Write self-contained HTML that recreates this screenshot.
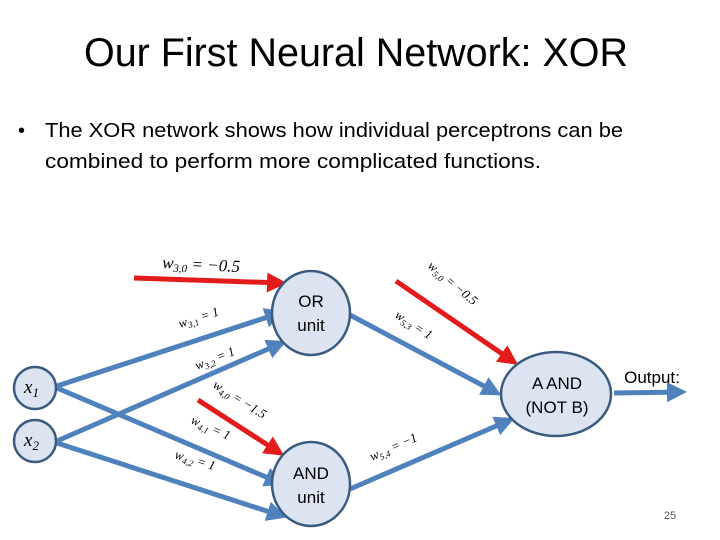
<!DOCTYPE html>
<html><head><meta charset="utf-8"><style>
html,body{margin:0;padding:0;background:#fff;}
svg{display:block;}
text{font-family:"Liberation Sans",sans-serif;}
.m{font-family:"Liberation Serif",serif;font-style:italic;}
</style></head><body>
<svg width="720" height="540" viewBox="0 0 720 540">
<defs>
<marker id="b" markerWidth="4" markerHeight="4" refX="3" refY="2" orient="auto" markerUnits="strokeWidth"><path d="M0,0 L4,2 L0,4 z" fill="#4f81bd"/></marker>
<marker id="r" markerWidth="4" markerHeight="4" refX="3" refY="2" orient="auto" markerUnits="strokeWidth"><path d="M0,0 L4,2 L0,4 z" fill="#e31b1b"/></marker>
</defs>
<text x="84" y="66" font-size="40" textLength="544" lengthAdjust="spacingAndGlyphs">Our First Neural Network: XOR</text>
<text x="18" y="137" font-size="20">•</text>
<text x="45" y="137" font-size="20" textLength="578" lengthAdjust="spacingAndGlyphs">The XOR network shows how individual perceptrons can be</text>
<text x="45" y="168" font-size="20" textLength="496" lengthAdjust="spacingAndGlyphs">combined to perform more complicated functions.</text>

<g stroke="#4f81bd" stroke-width="5" fill="none">
<line x1="57" y1="386" x2="280" y2="313" marker-end="url(#b)"/>
<line x1="57" y1="441" x2="282" y2="343" marker-end="url(#b)"/>
<line x1="57" y1="388" x2="280" y2="483" marker-end="url(#b)"/>
<line x1="57" y1="443" x2="282" y2="516" marker-end="url(#b)"/>
<line x1="350" y1="315" x2="497" y2="393" marker-end="url(#b)"/>
<line x1="350" y1="489" x2="510" y2="420" marker-end="url(#b)"/>
<line x1="614" y1="393" x2="682" y2="392" marker-end="url(#b)"/>
</g>
<g stroke="#e31b1b" stroke-width="5" fill="none">
<line x1="134" y1="278" x2="282" y2="283" marker-end="url(#r)"/>
<line x1="198" y1="400" x2="280" y2="453" marker-end="url(#r)"/>
<line x1="396" y1="281" x2="514" y2="362" marker-end="url(#r)"/>
</g>
<g fill="#dbe4f0" stroke="#3b5a80" stroke-width="2.5">
<ellipse cx="311" cy="313" rx="39" ry="42"/>
<ellipse cx="311" cy="484" rx="39" ry="42"/>
<circle cx="35" cy="388" r="21"/>
<circle cx="35" cy="441" r="21"/>
<ellipse cx="556" cy="394" rx="55" ry="42"/>
</g>
<g font-size="17" text-anchor="middle" fill="#000">
<text x="311" y="307">OR</text><text x="311" y="331">unit</text>
<text x="311" y="479">AND</text><text x="311" y="503">unit</text>
<text x="557" y="389">A AND</text><text x="557" y="413">(NOT B)</text>
<text x="652" y="383">Output:</text>
</g>
<text class="m" x="24" y="393" font-size="19">x<tspan font-size="13" dy="4">1</tspan></text>
<text class="m" x="24" y="446" font-size="19">x<tspan font-size="13" dy="4">2</tspan></text>
<text class="m" x="162" y="268" font-size="17" transform="rotate(3 162 268)">w<tspan font-size="11" dy="3">3,0</tspan><tspan dy="-3"> = −0.5</tspan></text>
<text class="m" x="180" y="328" font-size="13" transform="rotate(-18 180 328)">w<tspan font-size="9" dy="3">3,1</tspan><tspan dy="-3"> = 1</tspan></text>
<text class="m" x="197" y="370" font-size="13" transform="rotate(-22 197 370)">w<tspan font-size="9" dy="3">3,2</tspan><tspan dy="-3"> = 1</tspan></text>
<text class="m" x="212" y="387" font-size="13" transform="rotate(32 212 387)">w<tspan font-size="9" dy="3">4,0</tspan><tspan dy="-3"> = −1.5</tspan></text>
<text class="m" x="190" y="423" font-size="13" transform="rotate(24 190 423)">w<tspan font-size="9" dy="3">4,1</tspan><tspan dy="-3"> = 1</tspan></text>
<text class="m" x="174" y="458" font-size="13" transform="rotate(17 174 458)">w<tspan font-size="9" dy="3">4,2</tspan><tspan dy="-3"> = 1</tspan></text>
<text class="m" x="427" y="267" font-size="13" transform="rotate(40 427 267)">w<tspan font-size="9" dy="3">5,0</tspan><tspan dy="-3"> = −0.5</tspan></text>
<text class="m" x="394" y="317" font-size="13" transform="rotate(33 394 317)">w<tspan font-size="9" dy="3">5,3</tspan><tspan dy="-3"> = 1</tspan></text>
<text class="m" x="372" y="461" font-size="13" transform="rotate(-24 372 461)">w<tspan font-size="9" dy="3">5,4</tspan><tspan dy="-3"> = −1</tspan></text>
<text x="670" y="519" font-size="11" fill="#555" text-anchor="middle">25</text>
</svg>
</body></html>
